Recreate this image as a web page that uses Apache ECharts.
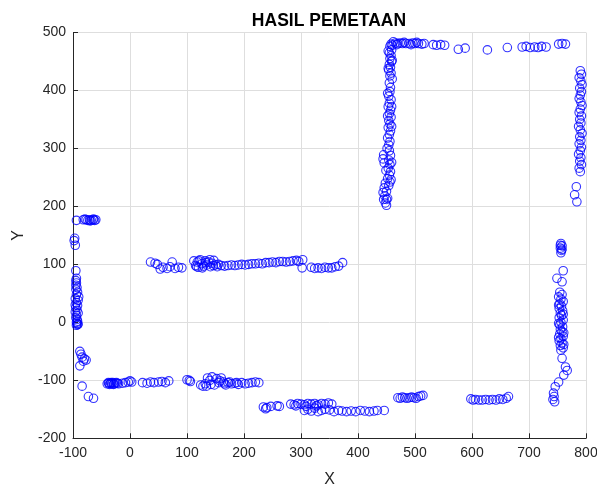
<!DOCTYPE html>
<html>
<head>
<meta charset="utf-8">
<script src="https://cdn.jsdelivr.net/npm/echarts@6/dist/echarts.min.js"></script>
<style>
html,body{margin:0;padding:0;background:#fff;}
#chart{width:597px;height:487px;}
</style>
</head>
<body>
<div id="chart"></div>
<script>
// Axis ticks
var xTicks = [-100, 0, 100, 200, 300, 400, 500, 600, 700, 800];
var yTicks = [-200, -100, 0, 100, 200, 300, 400, 500];

// Left wall (x ~ -95)
var leftWall = [
  [-94,176],[-82,177],[-77,177],[-74,176],[-71,177],[-68,176],[-65,177],[-62,176],[-60,177],
  [-79,178],[-70,175],[-64,178],
  [-97,145],[-98,141],[-96,133],
  [-95,89],[-94,76],[-95,72],[-94,68],[-95,64],[-93,60],[-95,57],[-92,52],[-94,48],[-96,41],
  [-91,38],[-94,34],[-92,29],[-95,25],[-93,21],[-91,16],[-94,12],[-95,8],[-93,5],[-92,2],
  [-94,0],[-93,-2],[-92,-4],[-94,-5],[-91,-3],[-96,30],[-90,44],[-96,18],
  [-88,-50],[-86,-55],[-84,-60],[-80,-63],[-77,-65],[-82,-67],[-88,-75],
  [-84,-110],[-73,-128],[-64,-131]
];

// Lower row (y ~ -105)
var lowerRow = [
  [-40,-106],[-38,-104],[-36,-107],[-34,-105],[-32,-106],[-30,-104],[-28,-106],[-26,-105],
  [-24,-104],[-20,-106],[-13,-105],[-8,-104],[-3,-103],[0,-101],[3,-103],
  [-37,-105],[-33,-104],[-29,-107],[-22,-105],
  [22,-104],[30,-105],[36,-103],[42,-104],[50,-103],[56,-102],[62,-104],[68,-101],
  [100,-99],[104,-100],[106,-102],
  [124,-108],[128,-110],[132,-106],[136,-96],[140,-100],[144,-94],[148,-108],[152,-97],
  [156,-104],[160,-96],[164,-103],[168,-108],[172,-104],[178,-106],[184,-105],[190,-107],
  [196,-104],[202,-106],[208,-105],[214,-104],[220,-103],[226,-104],
  [134,-110],[142,-107],[158,-101],[166,-106],[175,-103],[187,-104]
];

// Middle row (y ~ 100)
var middleRow = [
  [36,104],[44,102],[48,100],[53,92],[58,95],[65,93],[70,96],[74,104],[79,93],[85,95],[91,94],
  [112,106],[115,98],[118,104],[120,95],[123,108],[126,101],[129,97],[132,106],[135,99],
  [138,104],[141,96],[144,102],[147,107],[150,99],[155,100],[160,98],[166,97],[172,98],
  [178,99],[184,98],[190,99],[196,100],[202,99],[208,100],[214,101],[220,101],[226,102],
  [232,101],[238,103],[244,103],[250,104],[256,103],[262,105],[268,105],[274,104],[280,105],
  [286,106],[292,107],[296,105],[303,108],[302,94],
  [117,96],[121,106],[127,94],[133,103],[140,108],[146,98],[153,96],
  [318,95],[324,93],[330,94],[336,93],[342,95],[348,94],[354,94],[360,96],[366,97],[373,103]
];

// Bottom row (y ~ -145)
var bottomRow = [
  [234,-146],[240,-147],[247,-145],[258,-144],[262,-145],[282,-141],[288,-142],[294,-140],
  [300,-141],[306,-142],[312,-140],[318,-141],[324,-140],[330,-142],[336,-140],[342,-141],
  [348,-139],[354,-141],[238,-149],[291,-144],[309,-145],[327,-144],
  [306,-152],[312,-150],[318,-153],[324,-148],[330,-154],[336,-152],[342,-150],[350,-151],
  [358,-154],[366,-152],[372,-153],[380,-154],[388,-153],[396,-154],[404,-152],[412,-153],
  [420,-154],[428,-153],[434,-152],[446,-152]
];

// Short rows (y ~ -130)
var shortRowA = [
  [470,-130],[474,-131],[478,-129],[482,-130],[486,-131],[490,-130],[494,-129],[498,-130],
  [502,-131],[506,-128],[510,-127],[514,-126]
];
var shortRowB = [
  [598,-132],[602,-134],[606,-133],[612,-134],[618,-134],[624,-133],[630,-134],[636,-133],
  [642,-134],[648,-132],[654,-133],[660,-131],[664,-128]
];

// Lower right wall (x ~ 757)
var rightLowerWall = [
  [756,136],[758,132],[755,128],[757,124],[756,120],[758,126],[755,133],
  [760,89],[749,76],[758,70],
  [754,52],[758,48],[752,44],[756,40],[760,36],[754,32],[757,28],[753,24],[759,20],[755,16],
  [757,12],[753,8],[760,4],[756,0],[754,-4],[759,-8],[755,-12],[758,-16],[754,-20],[760,-24],
  [756,-28],[753,-32],[758,-36],[755,-40],[760,-44],[756,-48],
  [752,30],[760,14],[752,-2],[761,-18],[752,-26],[761,-38],
  [758,-62],[764,-77],[767,-83],[761,-91],[752,-103],[746,-111],[743,-122],[744,-128],
  [742,-133],[745,-137]
];

// Middle wall (x ~ 455)
var middleWall = [
  [462,484],[458,480],[456,476],[459,470],[455,465],[458,460],[456,455],[459,450],[455,445],
  [457,440],[454,435],[458,430],[456,425],[455,413],[457,405],[456,398],[454,390],[458,384],
  [455,378],[453,372],[457,366],[455,360],[458,354],[454,348],[456,342],[453,336],[457,330],
  [455,324],[452,318],[456,312],[454,306],[445,289],[444,282],[446,275],[455,296],[457,288],
  [454,280],[456,272],[453,266],[457,260],[455,254],[452,248],[456,242],[454,236],[448,240],
  [446,232],[450,226],[447,218],[450,212],[448,206],[450,202],
  [460,478],[453,468],[460,452],[453,438],[460,420],[452,395],[459,372],[452,356],[459,338],
  [451,300],[459,276],[449,262],[458,246],[444,224],[452,214],[445,212]
];

// Top row (y ~ 478)
var topRow = [
  [466,482],[470,481],[474,482],[478,481],[484,481],[490,481],[496,482],[500,481],[506,481],
  [512,480],[516,481],[532,479],[538,478],[545,479],[552,478],[576,471],[588,473],[627,470],
  [468,479],[481,483],[493,479],[503,483],
  [662,474],[688,475],[695,476],[702,474],[710,475],[716,474],[722,476],[730,475],
  [752,480],[758,481],[764,480]
];

// Upper right wall (x ~ 790)
var rightUpperWall = [
  [790,434],[792,428],[788,422],[791,416],[793,410],[789,404],[792,398],[790,392],[788,386],
  [791,380],[793,374],[790,368],[788,362],[792,356],[789,350],[791,344],[787,338],[790,332],
  [793,326],[789,320],[791,314],[788,308],[792,302],[790,296],[787,290],[791,284],[789,278],
  [792,272],[788,266],[790,260],
  [783,234],[780,220],[784,208]
];

var allPoints = [].concat(leftWall, lowerRow, middleRow, bottomRow, shortRowA, shortRowB,
  rightLowerWall, middleWall, topRow, rightUpperWall);

var chart = echarts.init(document.getElementById('chart'), null, {renderer: 'canvas'});
var axisColor = '#262626';
var gridColor = '#dedede';
var fontFam = 'Liberation Sans, Arial, sans-serif';
chart.setOption({
  animation: false,
  backgroundColor: '#ffffff',
  title: {
    text: 'HASIL PEMETAAN',
    left: 324,
    top: 7,
    textAlign: 'center',
    textStyle: {fontFamily: fontFam, fontWeight: 'bold', fontSize: 17.5, color: '#000'}
  },
  grid: {left: 73, right: 11, top: 32.5, bottom: 48.7, containLabel: false, outerBoundsMode: 'none'},
  xAxis: {
    type: 'value',
    min: xTicks[0], max: xTicks[xTicks.length - 1], interval: 100,
    name: 'X', nameLocation: 'middle', nameGap: 33,
    nameTextStyle: {fontFamily: fontFam, fontSize: 16, color: axisColor},
    axisLine: {show: true, onZero: false, lineStyle: {color: axisColor, width: 1}},
    axisTick: {show: true, inside: true, length: 5, lineStyle: {color: axisColor}},
    axisLabel: {margin: 8, fontFamily: fontFam, fontSize: 14, color: axisColor},
    splitLine: {show: true, lineStyle: {color: gridColor, width: 1}}
  },
  yAxis: {
    type: 'value',
    min: yTicks[0], max: yTicks[yTicks.length - 1], interval: 100,
    name: 'Y', nameLocation: 'middle', nameGap: 42, nameRotate: 90,
    nameTextStyle: {fontFamily: fontFam, fontSize: 16, color: axisColor},
    axisLine: {show: true, onZero: false, lineStyle: {color: axisColor, width: 1}},
    axisTick: {show: true, inside: true, length: 5, lineStyle: {color: axisColor}},
    axisLabel: {margin: 7, fontFamily: fontFam, fontSize: 14, color: axisColor},
    splitLine: {show: true, lineStyle: {color: gridColor, width: 1}}
  },
  series: [{
    type: 'scatter',
    data: allPoints,
    symbol: 'circle',
    symbolSize: 8.5,
    itemStyle: {color: 'rgba(0,0,0,0)', borderColor: '#0000ff', borderWidth: 1.1},
    emphasis: {disabled: true},
    clip: false
  }]
});
</script>
</body>
</html>
